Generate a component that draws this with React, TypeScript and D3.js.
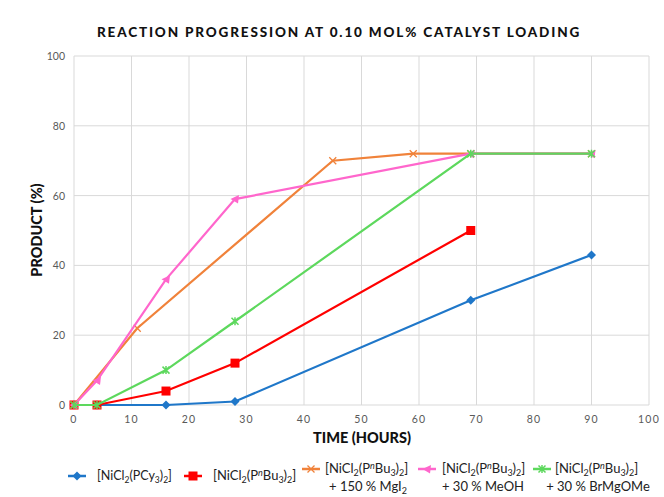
import React from "react";
import * as d3 from "d3";

const xTicks = [0, 10, 20, 30, 40, 50, 60, 70, 80, 90, 100];
const yTicks = [0, 20, 40, 60, 80, 100];

const pcy3X = [0, 4, 16, 28, 69, 90];
const pcy3Y = [0, 0, 0, 1, 30, 43];
const pbuX = [0, 4, 16, 28, 69];
const pbuY = [0, 0, 4, 12, 50];
const mgiX = [0, 11, 45, 59, 69, 90];
const mgiY = [0, 22, 70, 72, 72, 72];
const meohX = [0, 4, 16, 28, 69, 90];
const meohY = [0, 7, 36, 59, 72, 72];
const brX = [0, 4, 16, 28, 69, 90];
const brY = [0, 0, 10, 24, 72, 72];

const W = 664, H = 497;
const x = d3.scaleLinear().domain([0, 100]).range([74, 649]);
const y = d3.scaleLinear().domain([0, 100]).range([405, 56]);

type S = { xs: number[]; ys: number[]; color: string; marker: string };
const series: S[] = [
  { xs: pcy3X, ys: pcy3Y, color: "#1f77c9", marker: "diamond" },
  { xs: pbuX, ys: pbuY, color: "#ff0000", marker: "square" },
  { xs: mgiX, ys: mgiY, color: "#f0823a", marker: "x" },
  { xs: meohX, ys: meohY, color: "#ff66cc", marker: "triangle" },
  { xs: brX, ys: brY, color: "#5dd85d", marker: "star" },
];

function Marker({ m, cx, cy, color }: { m: string; cx: number; cy: number; color: string }) {
  if (m === "diamond") return <path d={`M${cx},${cy - 4.5}L${cx + 4.5},${cy}L${cx},${cy + 4.5}L${cx - 4.5},${cy}Z`} fill={color} />;
  if (m === "square") return <rect x={cx - 4.5} y={cy - 4.5} width={9} height={9} fill={color} />;
  if (m === "triangle") return <path d={`M${cx - 4.5},${cy}L${cx + 4},${cy - 4}L${cx + 3},${cy + 4.5}Z`} fill={color} />;
  if (m === "x") return <path d={`M${cx - 3.5},${cy - 3.5}L${cx + 3.5},${cy + 3.5}M${cx + 3.5},${cy - 3.5}L${cx - 3.5},${cy + 3.5}`} stroke={color} strokeWidth={1.3} />;
  return <path d={`M${cx - 3.5},${cy - 3.5}L${cx + 3.5},${cy + 3.5}M${cx + 3.5},${cy - 3.5}L${cx - 3.5},${cy + 3.5}M${cx},${cy - 4}L${cx},${cy + 4}`} stroke={color} strokeWidth={1.5} />;
}

const line = d3.line<[number, number]>().x((d) => x(d[0])).y((d) => y(d[1]));

const font = "Lato, 'Open Sans', sans-serif";

function Pbu({ xx, yy }: { xx: number; yy: number }) {
  return (
    <text x={xx} y={yy} fontSize={13} fill="#222" fontFamily={font}>
      [NiCl<tspan fontSize={9} dy={3}>2</tspan>
      <tspan dy={-3}>(P</tspan>
      <tspan fontSize={9} fontStyle="italic" dy={-4}>n</tspan>
      <tspan dy={4}>Bu</tspan>
      <tspan fontSize={9} dy={3}>3</tspan>
      <tspan dy={-3}>)</tspan>
      <tspan fontSize={9} dy={3}>2</tspan>
      <tspan dy={-3}>]</tspan>
    </text>
  );
}

function LegendMark({ cx, cy, color, m }: { cx: number; cy: number; color: string; m: string }) {
  return (
    <g>
      <line x1={cx - 9} x2={cx + 9} y1={cy} y2={cy} stroke={color} strokeWidth={2.5} />
      <Marker m={m} cx={cx} cy={cy} color={color} />
    </g>
  );
}

export default function App() {
  return (
    <svg width={W} height={H} style={{ display: "block", position: "absolute", left: 0, top: 0 }}>
      <rect width={W} height={H} fill="#fff" />
      <text x={339} y={37} textAnchor="middle" fontSize={13.5} fontWeight="900" letterSpacing={1.85} fontFamily={font} fill="#111">
        REACTION PROGRESSION AT 0.10 MOL% CATALYST LOADING
      </text>
      {xTicks.map((t) => (
        <line key={"gx" + t} x1={x(t)} x2={x(t)} y1={y(0)} y2={y(100)} stroke="#d9d9d9" strokeWidth={1} />
      ))}
      {yTicks.map((t) => (
        <line key={"gy" + t} x1={x(0)} x2={x(100)} y1={y(t)} y2={y(t)} stroke="#d9d9d9" strokeWidth={1} />
      ))}
      {yTicks.map((t) => (
        <text key={"yt" + t} x={65} y={y(t) + 4} textAnchor="end" fontSize={10.5} fill="#595959" fontFamily={font}>
          {t}
        </text>
      ))}
      {xTicks.map((t) => (
        <text key={"xt" + t} x={x(t)} y={y(0) + 18} textAnchor="middle" fontSize={10.5} letterSpacing={1.2} fill="#595959" fontFamily={font}>
          {t}
        </text>
      ))}
      <text x={362} y={443} textAnchor="middle" fontSize={14.5} fontWeight="900" fontFamily={font} fill="#111">
        TIME (HOURS)
      </text>
      <text transform={`translate(42,230) rotate(-90)`} textAnchor="middle" fontSize={14.5} fontWeight="900" fontFamily={font} fill="#111">
        PRODUCT (%)
      </text>
      {series.map((s, i) => (
        <g key={i}>
          <path d={line(s.xs.map((v, j) => [v, s.ys[j]] as [number, number])) || ""} fill="none" stroke={s.color} strokeWidth={2.2} />
          {s.xs.map((v, j) => (
            <Marker key={j} m={s.marker} cx={x(v)} cy={y(s.ys[j])} color={s.color} />
          ))}
        </g>
      ))}
      <LegendMark cx={77} cy={476} color={series[0].color} m="diamond" />
      <text x={97} y={480} fontSize={12.5} fill="#222" fontFamily={font}>
        [NiCl<tspan fontSize={8.5} dy={3}>2</tspan>
        <tspan dy={-3}>(PCy</tspan>
        <tspan fontSize={8.5} dy={3}>3</tspan>
        <tspan dy={-3}>)</tspan>
        <tspan fontSize={8.5} dy={3}>2</tspan>
        <tspan dy={-3}>]</tspan>
      </text>
      <LegendMark cx={193} cy={476} color={series[1].color} m="square" />
      <Pbu xx={213} yy={480} />
      <LegendMark cx={311} cy={469} color={series[2].color} m="x" />
      <Pbu xx={325} yy={473} />
      <text x={368} y={491} textAnchor="middle" fontSize={13} fill="#222" fontFamily={font}>
        + 150 % MgI<tspan fontSize={9} dy={3}>2</tspan>
      </text>
      <LegendMark cx={427} cy={469} color={series[3].color} m="triangle" />
      <Pbu xx={442} yy={473} />
      <text x={483} y={491} textAnchor="middle" fontSize={13} fill="#222" fontFamily={font}>
        + 30 % MeOH
      </text>
      <LegendMark cx={542} cy={469} color={series[4].color} m="star" />
      <Pbu xx={555} yy={473} />
      <text x={598} y={491} textAnchor="middle" fontSize={13} fill="#222" fontFamily={font}>
        + 30 % BrMgOMe
      </text>
    </svg>
  );
}
